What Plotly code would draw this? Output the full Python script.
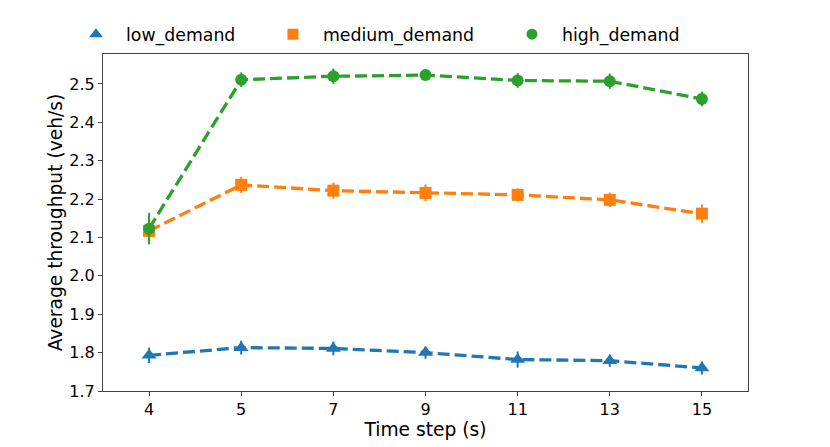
import plotly.graph_objects as go

time_steps = ["4", "5", "7", "9", "11", "13", "15"]

low_demand = [1.793, 1.813, 1.811, 1.800, 1.782, 1.779, 1.760]
low_err = [0.020, 0.018, 0.018, 0.016, 0.021, 0.016, 0.017]

medium_demand = [2.117, 2.237, 2.222, 2.216, 2.211, 2.198, 2.162]
medium_err = [0.033, 0.021, 0.021, 0.022, 0.017, 0.019, 0.024]

high_demand = [2.123, 2.511, 2.520, 2.523, 2.509, 2.507, 2.461]
high_err = [0.041, 0.019, 0.020, 0.006, 0.019, 0.020, 0.019]

series = [
    ("low_demand", low_demand, low_err, "#1f77b4", "triangle-up", 13, "legend"),
    ("medium_demand", medium_demand, medium_err, "#ff7f0e", "square", 12, "legend2"),
    ("high_demand", high_demand, high_err, "#2ca02c", "circle", 12, "legend3"),
]

fig = go.Figure()
for name, vals, errs, color, sym, size, lg in series:
    fig.add_trace(go.Scatter(
        x=time_steps, y=vals, mode="lines+markers", name=name,
        showlegend=False,
        line=dict(color=color, width=3.3, dash="12px,5px"),
        marker=dict(symbol=sym, size=size, color=color),
        error_y=dict(type="data", array=errs, visible=True, color=color,
                     thickness=2, width=0),
    ))
for name, vals, errs, color, sym, size, lg in series:
    fig.add_trace(go.Scatter(
        x=[None], y=[None], mode="markers", name=name, legend=lg,
        marker=dict(symbol=sym, size=size - 1, color=color),
    ))

axis_common = dict(
    showline=True, linecolor="#444", linewidth=1, mirror=True,
    ticks="outside", ticklen=4, tickcolor="#444", showgrid=False,
    zeroline=False, tickfont=dict(size=16, color="black"),
)

legend_common = dict(orientation="h", y=1.058, yanchor="middle", xanchor="left",
                     font=dict(size=17.33), itemwidth=50,
                     bgcolor="rgba(0,0,0,0)")

fig.update_layout(
    width=822, height=439,
    margin=dict(l=95, r=82, t=46, b=56, autoexpand=False),
    plot_bgcolor="white", paper_bgcolor="white",
    font=dict(family="DejaVu Sans", size=16, color="black"),
    xaxis=dict(type="category", range=[-0.5, 6.5],
               title=dict(text="Time step (s)", font=dict(size=18.67), standoff=0),
               **axis_common),
    yaxis=dict(range=[1.7, 2.578], dtick=0.1, tickformat=".1f",
               title=dict(text="Average throughput (veh/s)", font=dict(size=18.67), standoff=1),
               **axis_common),
    legend=dict(x=-0.0574, **legend_common),
    legend2=dict(x=0.248, **legend_common),
    legend3=dict(x=0.6186, **legend_common),
)

fig.write_html("out.html")
